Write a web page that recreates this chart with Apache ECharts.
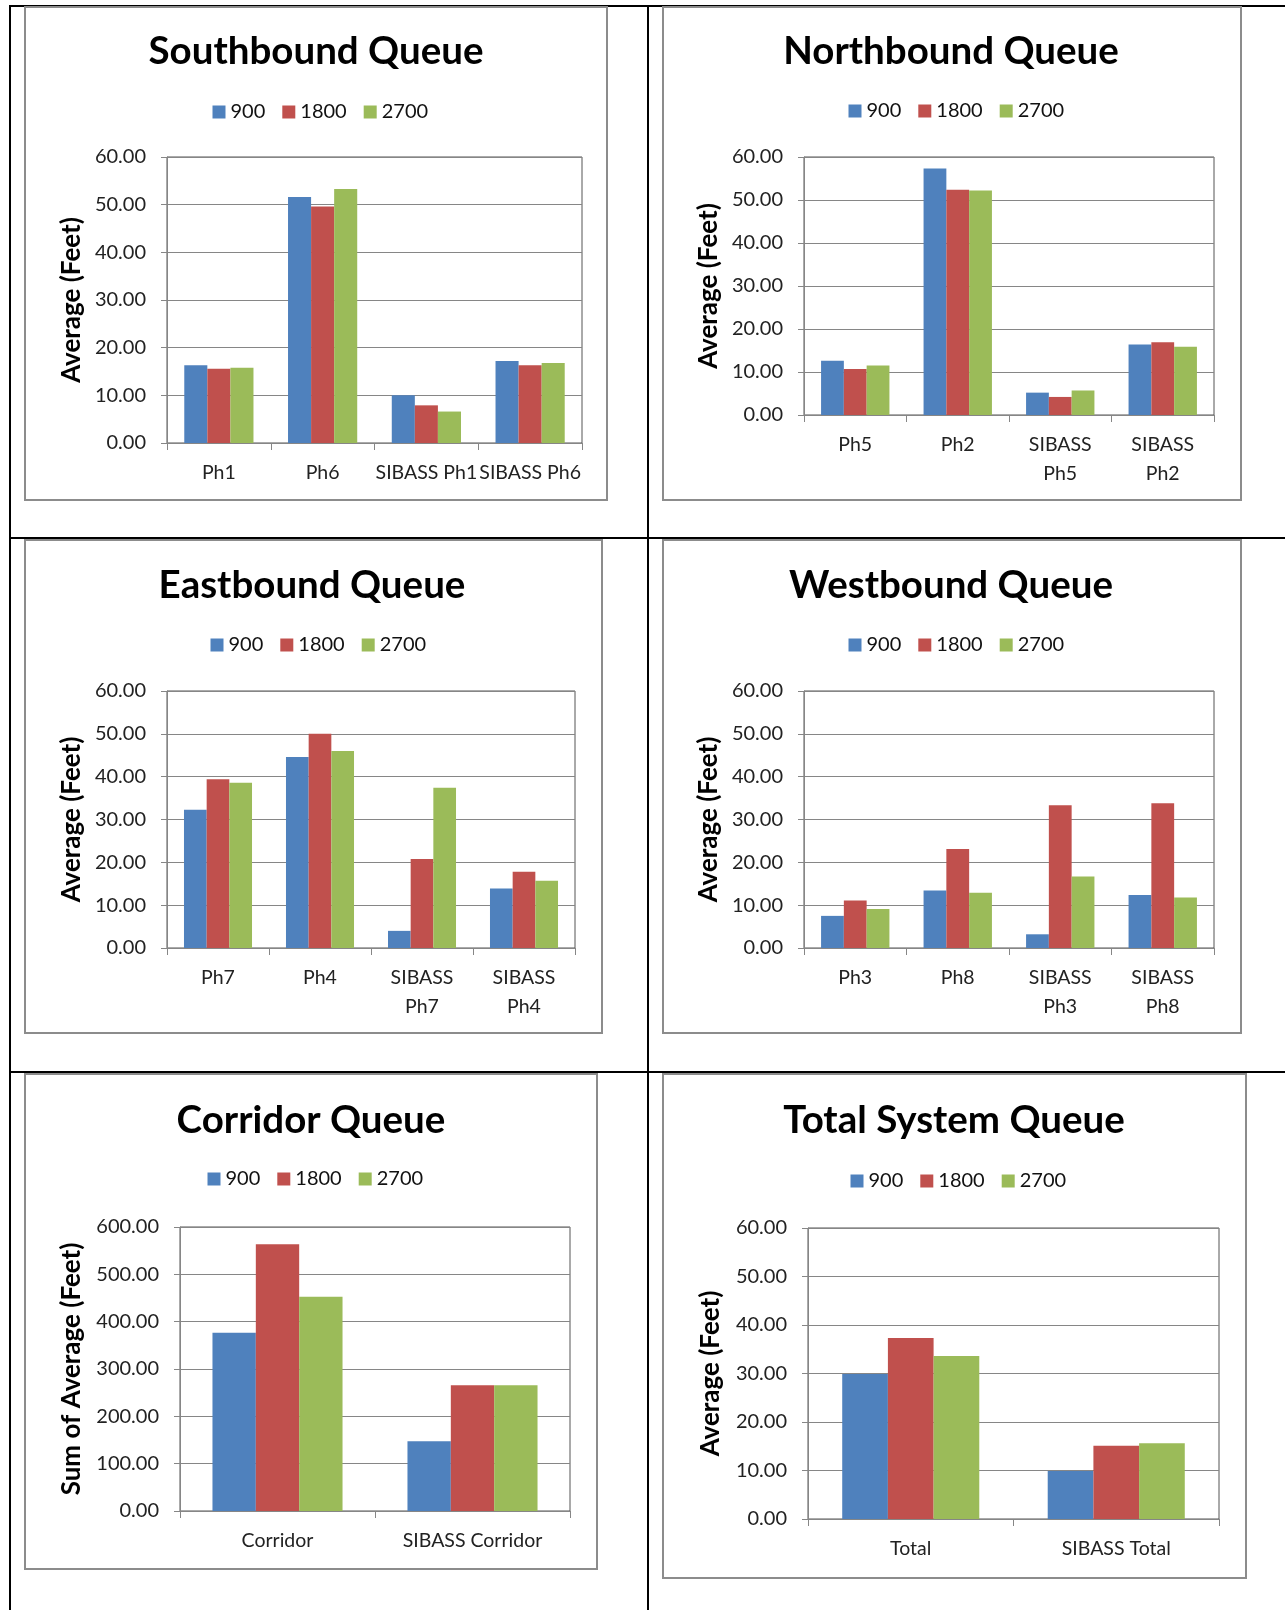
<!DOCTYPE html>
<html>
<head>
<meta charset="utf-8">
<script src="https://cdn.jsdelivr.net/npm/echarts@6/dist/echarts.min.js"></script>
<style>
html,body{margin:0;padding:0;background:#fff;}
#c{width:1285px;height:1610px;}
</style>
</head>
<body>
<div id="c"></div>
<script>
// ---------- data ----------
const seriesNames = ['900', '1800', '2700'];

const sbTitle = 'Southbound Queue';
const sbCats = ['Ph1', 'Ph6', 'SIBASS Ph1', 'SIBASS Ph6'];
const sb900  = [16.3, 51.6, 10.0, 17.2];
const sb1800 = [15.6, 49.6, 7.9, 16.3];
const sb2700 = [15.8, 53.3, 6.6, 16.8];

const nbTitle = 'Northbound Queue';
const nbCats = ['Ph5', 'Ph2', 'SIBASS\nPh5', 'SIBASS\nPh2'];
const nb900  = [12.6, 57.3, 5.2, 16.4];
const nb1800 = [10.7, 52.4, 4.2, 16.9];
const nb2700 = [11.5, 52.2, 5.7, 15.9];

const ebTitle = 'Eastbound Queue';
const ebCats = ['Ph7', 'Ph4', 'SIBASS\nPh7', 'SIBASS\nPh4'];
const eb900  = [32.3, 44.6, 4.0, 13.9];
const eb1800 = [39.4, 50.0, 20.8, 17.8];
const eb2700 = [38.6, 46.0, 37.4, 15.7];

const wbTitle = 'Westbound Queue';
const wbCats = ['Ph3', 'Ph8', 'SIBASS\nPh3', 'SIBASS\nPh8'];
const wb900  = [7.5, 13.4, 3.2, 12.4];
const wb1800 = [11.1, 23.1, 33.3, 33.8];
const wb2700 = [9.1, 12.9, 16.7, 11.8];

const crTitle = 'Corridor Queue';
const crCats = ['Corridor', 'SIBASS Corridor'];
const cr900  = [376.6, 147.4];
const cr1800 = [563.5, 265.7];
const cr2700 = [452.6, 265.7];

const tsTitle = 'Total System Queue';
const tsCats = ['Total', 'SIBASS Total'];
const ts900  = [29.9, 9.9];
const ts1800 = [37.3, 15.1];
const ts2700 = [33.6, 15.6];

const yNameAvg = 'Average (Feet)';
const yNameSum = 'Sum of Average (Feet)';
const yTicks60 = {min: 0, max: 60, interval: 10};
const yTicks600 = {min: 0, max: 600, interval: 100};

// ---------- layout ----------
const colors = ['#4F81BD', '#C0504D', '#9BBB59'];
const FONT = 'Lato, "Open Sans", sans-serif';

const panels = [
  {title: sbTitle, cats: sbCats, data: [sb900, sb1800, sb2700], yName: yNameAvg, y: yTicks60,
   box: [25, 7, 607, 500], grid: [167, 157, 582, 443], tc: [316, 50], lc: [320, 112], nameGap: 82},
  {title: nbTitle, cats: nbCats, data: [nb900, nb1800, nb2700], yName: yNameAvg, y: yTicks60,
   box: [663, 7, 1241, 500], grid: [804, 157, 1214, 415], tc: [951, 50], lc: [956, 111], nameGap: 82},
  {title: ebTitle, cats: ebCats, data: [eb900, eb1800, eb2700], yName: yNameAvg, y: yTicks60,
   box: [25, 540, 602, 1033], grid: [167, 691, 575, 948], tc: [312, 584], lc: [318, 645], nameGap: 82},
  {title: wbTitle, cats: wbCats, data: [wb900, wb1800, wb2700], yName: yNameAvg, y: yTicks60,
   box: [663, 540, 1241, 1033], grid: [804, 691, 1214, 948], tc: [951, 584], lc: [956, 645], nameGap: 82},
  {title: crTitle, cats: crCats, data: [cr900, cr1800, cr2700], yName: yNameSum, y: yTicks600,
   box: [25, 1074, 597, 1569], grid: [180, 1227, 570, 1511], tc: [311, 1119], lc: [315, 1179], nameGap: 95},
  {title: tsTitle, cats: tsCats, data: [ts900, ts1800, ts2700], yName: yNameAvg, y: yTicks60,
   box: [663, 1074, 1246, 1578], grid: [808, 1228, 1219, 1519], tc: [954, 1119], lc: [958, 1181], nameGap: 84}
];

const W = 1285, H = 1610;
const titles = [], legends = [], grids = [], xAxes = [], yAxes = [], series = [], graphics = [];

// table lines
const lineStyle = {stroke: '#000', lineWidth: 2};
[[10, 5, 10, H], [648, 5, 648, H], [10, 6, W, 6], [10, 538, W, 538], [10, 1072, W, 1072]].forEach(l => {
  graphics.push({type: 'line', shape: {x1: l[0], y1: l[1], x2: l[2], y2: l[3]}, style: lineStyle, z: -10});
});

panels.forEach((p, i) => {
  graphics.push({type: 'rect', shape: {x: p.box[0], y: p.box[1], width: p.box[2] - p.box[0], height: p.box[3] - p.box[1]},
    style: {fill: '#fff', stroke: '#8c8c8c', lineWidth: 2}, z: -5});
  titles.push({text: p.title, left: p.tc[0], top: p.tc[1] - 18, textAlign: 'center', padding: 0,
    textStyle: {fontFamily: FONT, fontWeight: 'bold', fontSize: 38.5, color: '#000'}});
  legends.push({data: seriesNames, left: p.lc[0] - 107.5, top: p.lc[1] - 10, orient: 'horizontal', padding: 0,
    icon: 'rect', itemWidth: 13, itemHeight: 13, itemGap: 17, selectedMode: false,
    textStyle: {fontFamily: FONT, fontSize: 20, color: '#111'}});
  grids.push({left: p.grid[0], top: p.grid[1], width: p.grid[2] - p.grid[0], height: p.grid[3] - p.grid[1],
    show: true, borderColor: '#555', borderWidth: 1, backgroundColor: 'transparent', containLabel: false});
  xAxes.push({type: 'category', gridIndex: i, data: p.cats,
    axisLine: {lineStyle: {color: '#868686', width: 1}},
    axisTick: {show: true, length: 7, lineStyle: {color: '#868686'}},
    axisLabel: {interval: 0, margin: 15, fontFamily: FONT, fontSize: 19.5, color: '#222', lineHeight: 29},
    splitLine: {show: false}});
  yAxes.push({type: 'value', gridIndex: i, min: p.y.min, max: p.y.max, interval: p.y.interval,
    name: p.yName, nameLocation: 'middle', nameGap: p.nameGap,
    nameTextStyle: {fontFamily: FONT, fontWeight: 'bold', fontSize: 26, color: '#000'},
    axisLine: {show: true, lineStyle: {color: '#868686', width: 1}},
    axisTick: {show: true, length: 6, lineStyle: {color: '#868686'}},
    axisLabel: {margin: 21, fontFamily: FONT, fontSize: 20, color: '#222', formatter: v => v.toFixed(2)},
    splitLine: {show: true, lineStyle: {color: '#868686', width: 1}}});
  p.data.forEach((d, k) => {
    series.push({type: 'bar', name: seriesNames[k], xAxisIndex: i, yAxisIndex: i, data: d,
      barGap: '0%', barCategoryGap: '33.3%', itemStyle: {color: colors[k]}, animation: false});
  });
});

const chart = echarts.init(document.getElementById('c'), null, {renderer: 'canvas'});
chart.setOption({
  animation: false,
  color: colors,
  title: titles,
  legend: legends,
  grid: grids,
  xAxis: xAxes,
  yAxis: yAxes,
  series: series,
  graphic: graphics
});
</script>
</body>
</html>
